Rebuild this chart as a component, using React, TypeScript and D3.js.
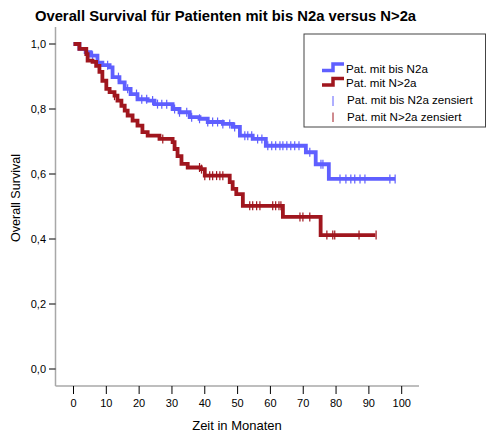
import React from "react";
import * as d3 from "d3";

// Kaplan-Meier step points: [month, survival after the event]
const stepsN2a: [number, number][] = [
  [1.8, 0.985], [3.7, 0.975], [5.2, 0.964], [7.3, 0.943], [8.8, 0.935], [11, 0.928],
  [11.9, 0.898], [14, 0.882], [15.6, 0.862], [17.4, 0.846], [19.5, 0.83], [22.6, 0.826],
  [24.7, 0.815], [30.2, 0.8], [32.3, 0.79], [35.4, 0.775], [38.4, 0.77], [40.9, 0.76],
  [45.5, 0.754], [48.5, 0.745], [50.7, 0.718], [54.6, 0.708], [58.6, 0.687], [70.8, 0.667],
  [73.8, 0.63], [77.8, 0.585],
];
const endN2a = 98;
const censorN2a = [
  5.8, 7.6, 10.4, 13.7, 16.5, 19.2, 20.8, 22.3, 24.1, 25.6, 26.9, 28.4, 30.8, 32.3, 34.5, 36,
  38.4, 40.9, 42.4, 43.9, 45.5, 47.6, 49.1, 52.2, 53.1, 54.3, 56.1, 57.4, 59.2, 60.4, 61.6,
  62.9, 63.8, 65, 66.2, 67.4, 68.7, 72, 75.4, 76, 81.2, 83, 84.5, 85.7, 87.3, 88.8, 96.4, 98,
];

const stepsN2aPlus: [number, number][] = [
  [1.8, 0.985], [3.9, 0.969], [4.3, 0.949], [5.8, 0.945], [6.9, 0.933], [7.9, 0.914],
  [8.8, 0.887], [10, 0.862], [11, 0.852], [12.5, 0.841], [13.4, 0.826], [14.6, 0.81],
  [15.6, 0.795], [16.5, 0.78], [18, 0.764], [19.5, 0.749], [21, 0.729], [22.6, 0.718],
  [26.2, 0.708], [30.2, 0.698], [30.8, 0.677], [31.7, 0.655], [32.9, 0.631], [34.8, 0.62],
  [38.8, 0.615], [40, 0.595], [47.6, 0.575], [48.5, 0.554], [49.6, 0.538], [51.6, 0.502],
  [63.8, 0.468], [75.3, 0.412],
];
const endN2aPlus = 92;
const censorN2aPlus = [
  12.5, 27.2, 38.4, 39, 40, 41.5, 42.4, 43.6, 44.6, 45.5, 53.7, 54.6, 55.8, 56.8, 60.7,
  61.6, 62.6, 63.2, 69, 69.9, 72, 77.2, 79, 79.6, 87, 92.2,
];

const xTicks = [0, 10, 20, 30, 40, 50, 60, 70, 80, 90, 100];
const yTicks = [0, 0.2, 0.4, 0.6, 0.8, 1.0];

const title = "Overall Survival für Patienten mit bis N2a versus N>2a";
const xTitle = "Zeit in Monaten";
const yTitle = "Overall Survival";
const legendLabels = [
  "Pat. mit bis N2a",
  "Pat. mit N>2a",
  "Pat. mit bis N2a zensiert",
  "Pat. mit N>2a zensiert",
];

const BLUE = "#5f5fff";
const RED = "#a0161e";
const FONT = "'Liberation Sans', Arial, sans-serif";

export default function App() {
  const x = d3.scaleLinear().domain([0, 100]).range([73.5, 401.7]);
  const y = d3.scaleLinear().domain([0, 1]).range([369, 44]);

  const line = d3
    .line<[number, number]>()
    .x((d) => x(d[0]))
    .y((d) => y(d[1]))
    .curve(d3.curveStepAfter);

  const fullPath = (steps: [number, number][], end: number) => {
    const pts: [number, number][] = [[0, 1], ...steps, [end, steps[steps.length - 1][1]]];
    return line(pts) || "";
  };

  const survAt = (steps: [number, number][], t: number) => {
    let s = 1;
    for (const [tt, v] of steps) if (tt <= t) s = v;
    return s;
  };

  const series = [
    { steps: stepsN2a, end: endN2a, censor: censorN2a, color: BLUE },
    { steps: stepsN2aPlus, end: endN2aPlus, censor: censorN2aPlus, color: RED },
  ];

  const frameLeft = 55.5;
  const frameBottom = 386;

  return (
    <svg width={489} height={435} style={{ position: "absolute", left: 0, top: 0, background: "#fff" }}>
      <rect width={489} height={435} fill="#fff" />
      <text x={225.5} y={21} textAnchor="middle" fontFamily={FONT} fontWeight="bold" fontSize={14.8} fill="#000">
        {title}
      </text>

      {/* frame */}
      <line x1={frameLeft} x2={frameLeft} y1={27} y2={frameBottom} stroke="#a8a8a8" strokeWidth={1.5} />
      <line x1={frameLeft} x2={419} y1={frameBottom} y2={frameBottom} stroke="#a8a8a8" strokeWidth={1.5} />

      {/* y axis */}
      {yTicks.map((t) => (
        <g key={t}>
          <line x1={49} x2={frameLeft} y1={y(t)} y2={y(t)} stroke="#000" strokeWidth={1} />
          <text x={46} y={y(t) + 4} textAnchor="end" fontFamily={FONT} fontSize={11} fill="#000">
            {d3.format(".1f")(t).replace(".", ",")}
          </text>
        </g>
      ))}
      <text
        transform={`translate(17,198) rotate(-90)`}
        textAnchor="middle"
        dominantBaseline="middle"
        fontFamily={FONT}
        fontSize={12.6}
        fill="#000"
      >
        {yTitle}
      </text>

      {/* x axis */}
      {xTicks.map((t) => (
        <g key={t}>
          <line x1={x(t)} x2={x(t)} y1={frameBottom} y2={394} stroke="#000" strokeWidth={1} />
          <text x={x(t)} y={407} textAnchor="middle" fontFamily={FONT} fontSize={11} fill="#000">
            {t}
          </text>
        </g>
      ))}
      <text x={237} y={429.5} textAnchor="middle" fontFamily={FONT} fontSize={13} fill="#000">
        {xTitle}
      </text>

      {/* survival curves */}
      {series.map((s, i) => (
        <g key={i}>
          <path d={fullPath(s.steps, s.end)} fill="none" stroke={s.color} strokeWidth={3.8} />
          {s.censor.map((c, j) => (
            <line
              key={j}
              x1={x(c)}
              x2={x(c)}
              y1={y(survAt(s.steps, c)) - 4.5}
              y2={y(survAt(s.steps, c)) + 4.5}
              stroke={s.color}
              strokeWidth={1.2}
            />
          ))}
        </g>
      ))}

      {/* legend */}
      <rect x={304} y={34} width={181.5} height={93} fill="#fff" stroke="#444" strokeWidth={1} />
      <path d="M322,70.5 H333 V64 H344" fill="none" stroke={BLUE} strokeWidth={3.5} />
      <path d="M322,85 H333 V78.5 H344" fill="none" stroke={RED} strokeWidth={3.5} />
      <line x1={333} x2={333} y1={96} y2={106} stroke={BLUE} strokeWidth={1} />
      <line x1={333} x2={333} y1={112.5} y2={122} stroke={RED} strokeWidth={1} />
      {legendLabels.map((l, i) => (
        <text
          key={l}
          x={i < 2 ? 346 : 347}
          y={[69.5, 83.5, 101, 117.5][i]}
          dominantBaseline="middle"
          fontFamily={FONT}
          fontSize={11.6}
          fill="#000"
        >
          {l}
        </text>
      ))}
    </svg>
  );
}
